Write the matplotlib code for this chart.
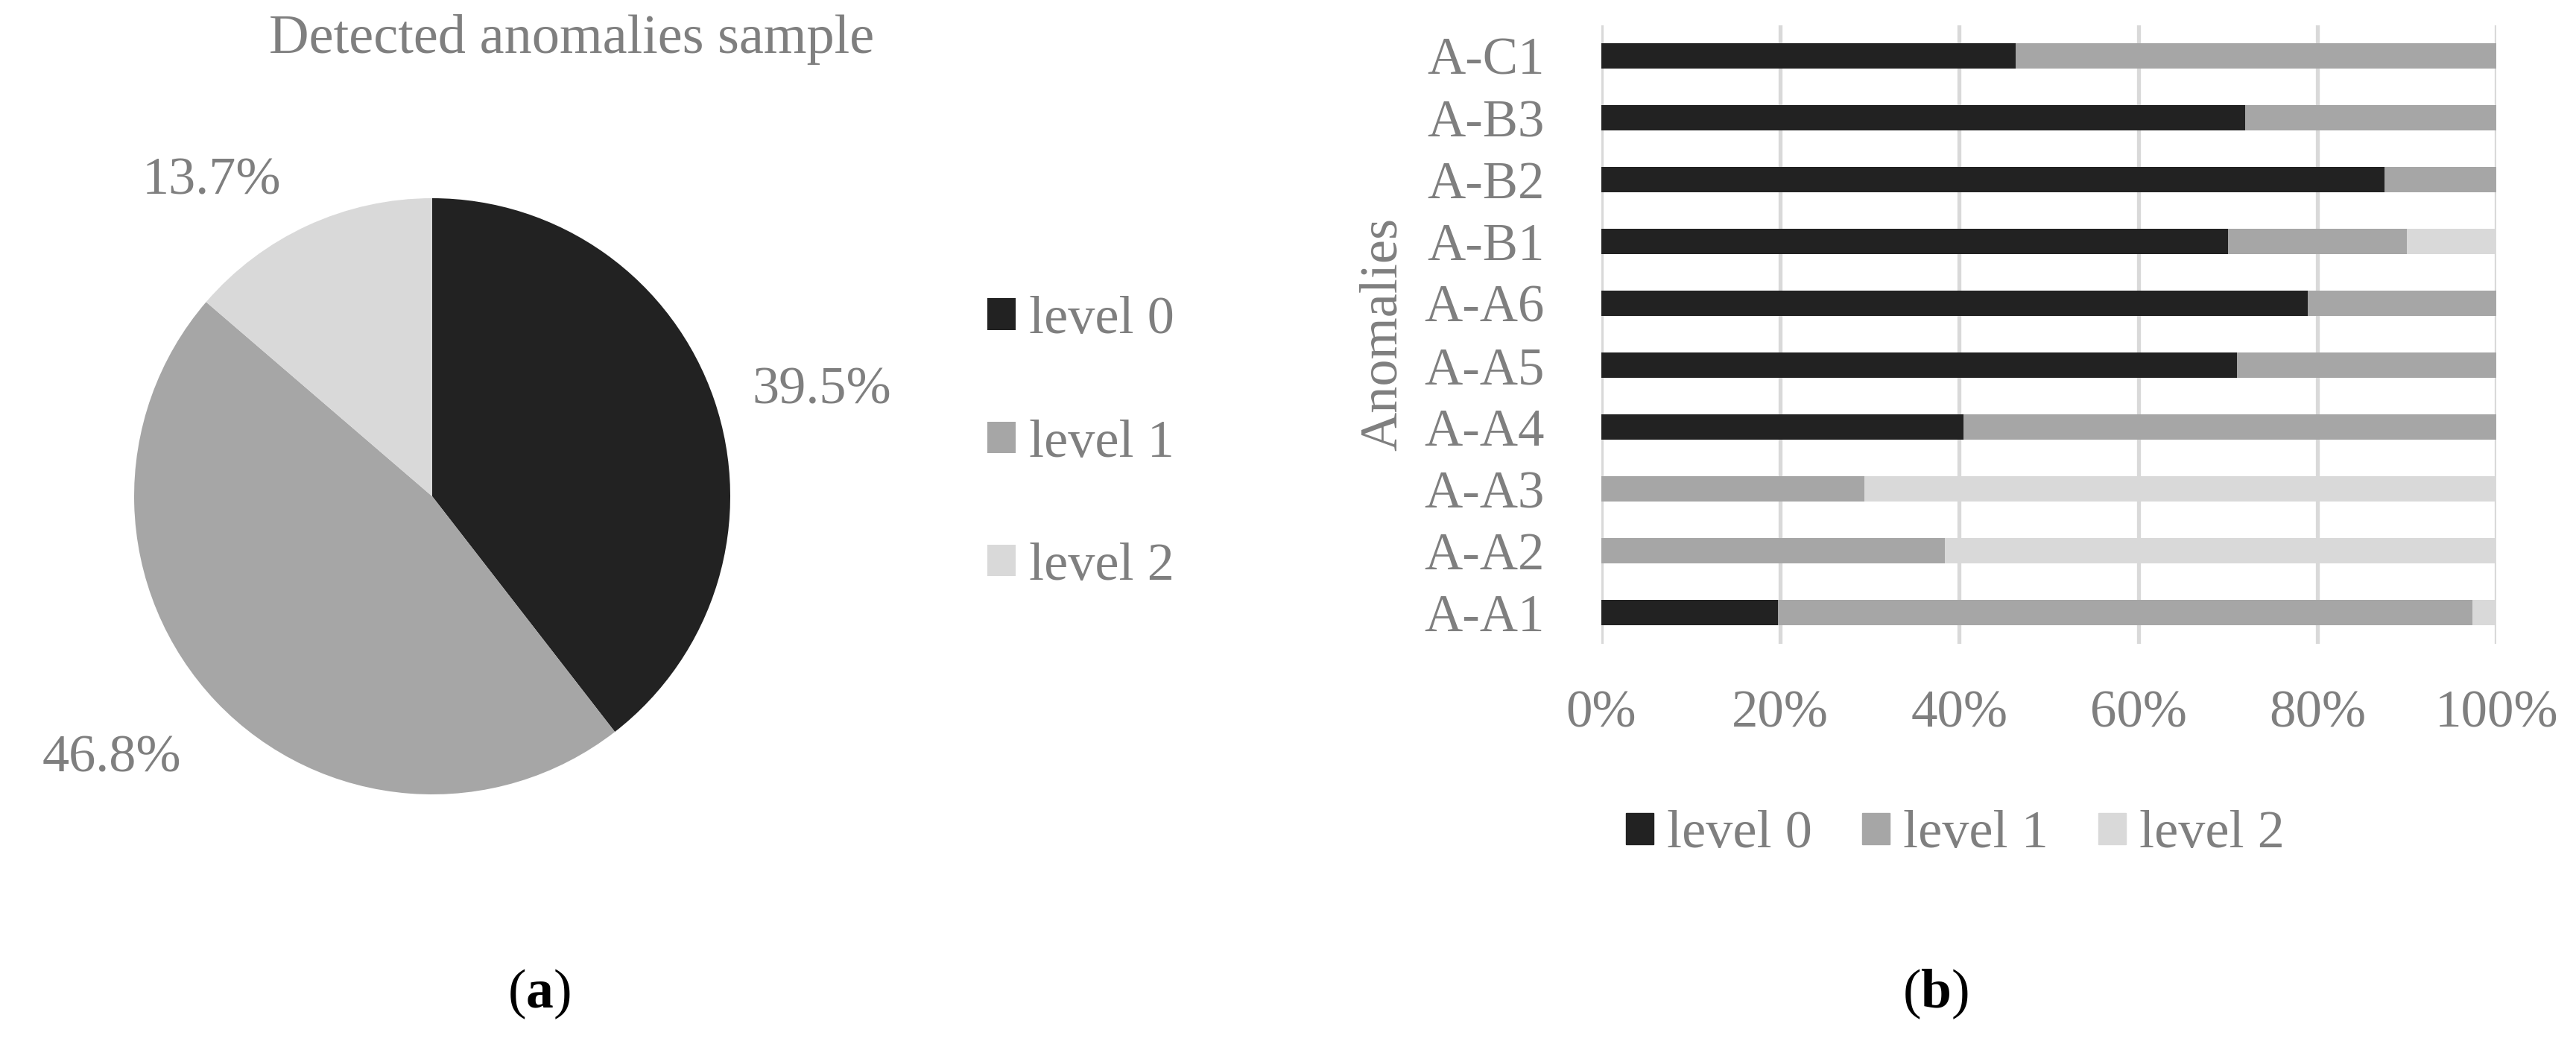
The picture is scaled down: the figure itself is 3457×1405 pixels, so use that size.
import matplotlib
matplotlib.use('Agg')
import matplotlib.pyplot as plt
from matplotlib.patches import Patch
import numpy as np

plt.rcParams['font.family'] = ['Liberation Serif', 'DejaVu Serif']
plt.rcParams['mathtext.fontset'] = 'custom'
plt.rcParams['mathtext.rm'] = 'Liberation Serif'
plt.rcParams['mathtext.bf'] = 'Liberation Serif:bold'

# data
levels = ['level 0', 'level 1', 'level 2']
colors = ['#222222', '#a6a6a6', '#d9d9d9']
pie_share = [39.5, 46.8, 13.7]

anomalies = ['A-A1', 'A-A2', 'A-A3', 'A-A4', 'A-A5', 'A-A6', 'A-B1', 'A-B2', 'A-B3', 'A-C1']
lvl0 = [19.7, 0.0, 0.0, 40.5, 71.0, 78.9, 70.0, 87.5, 71.9, 46.3]
lvl1 = [77.6, 38.4, 29.4, 59.5, 29.0, 21.1, 20.0, 12.5, 28.1, 53.7]
lvl2 = [2.7, 61.6, 70.6, 0.0, 0.0, 0.0, 10.0, 0.0, 0.0, 0.0]
xticks = [0, 20, 40, 60, 80, 100]

# where excel put the pie percentages (in pie radii, baseline)
pct_pos = [(1.3075, 0.31), (-1.075, -0.9225), (-0.74, 1.0125)]

txt = '#7f7f7f'
fs = 52
W, H = 3457, 1405
fig = plt.figure(figsize=(W / 100, H / 100), dpi=100)

# ---- (a) pie
cx, cy, r = 580, 666, 400
axp = fig.add_axes([(cx - r) / W, (H - cy - r) / H, 2 * r / W, 2 * r / H])
wedges, _ = axp.pie(pie_share, colors=colors, startangle=90, counterclock=False)
axp.set_xlim(-1, 1)
axp.set_ylim(-1, 1)
for v, (px, py) in zip(pie_share, pct_pos):
    axp.text(px, py, f'{v:.1f}%', color=txt, fontsize=fs, ha='center', va='baseline')
fig.text(767 / W, 1 - 53 / H, 'Detected anomalies sample', color=txt, fontsize=53.5,
         ha='center', va='center')
fig.legend(wedges, levels, loc='center left', bbox_to_anchor=(1325 / W, 1 - 595 / H),
           frameon=False, fontsize=fs, labelcolor=txt, handlelength=0.52, handleheight=0.52,
           handletextpad=0.25, labelspacing=1.39, borderpad=0, borderaxespad=0)

# ---- (b) stacked bars
axb = fig.add_axes([2149 / W, 1 - 863.5 / H, 1201 / W, 830 / H])
y = np.arange(len(anomalies))
left = np.zeros(len(anomalies))
for vals, c, lab in zip([lvl0, lvl1, lvl2], colors, levels):
    axb.barh(y, vals, left=left, height=0.41, color=c, label=lab, zorder=2)
    left += np.array(vals)
axb.set_xlim(0, 100)
axb.set_ylim(-0.5, len(anomalies) - 0.5)
axb.set_yticks(y)
axb.set_yticklabels(anomalies)
axb.set_xticks(xticks)
axb.set_xticklabels([f'{v}%' for v in xticks])
axb.tick_params(length=0, labelsize=51, labelcolor=txt)
axb.tick_params(axis='y', pad=55)
axb.tick_params(axis='x', pad=45)
axb.grid(axis='x', color='#d9d9d9', linewidth=3.8, zorder=0)
for s in axb.spines.values():
    s.set_visible(False)
axb.set_ylabel('Anomalies', color=txt, fontsize=fs)
axb.yaxis.set_label_coords((1856 - 2149) / 1201, 0.5)
axb.yaxis.label.set_va('center')
handles = [Patch(color=c) for c in colors]
fig.legend(handles, levels, loc='center', bbox_to_anchor=(2624 / W, 1 - 1120 / H), ncol=3,
           frameon=False, fontsize=fs, labelcolor=txt, handlelength=0.52, handleheight=0.52,
           handletextpad=0.25, columnspacing=0.92, borderpad=0, borderaxespad=0)

# panel labels
fig.text(723 / W, 1 - 1334 / H, r'($\mathbf{a}$)', fontsize=53, ha='center', va='center')
fig.text(2597 / W, 1 - 1334 / H, r'($\mathbf{b}$)', fontsize=53, ha='center', va='center')

fig.savefig('out.png', dpi=100, facecolor='white')
